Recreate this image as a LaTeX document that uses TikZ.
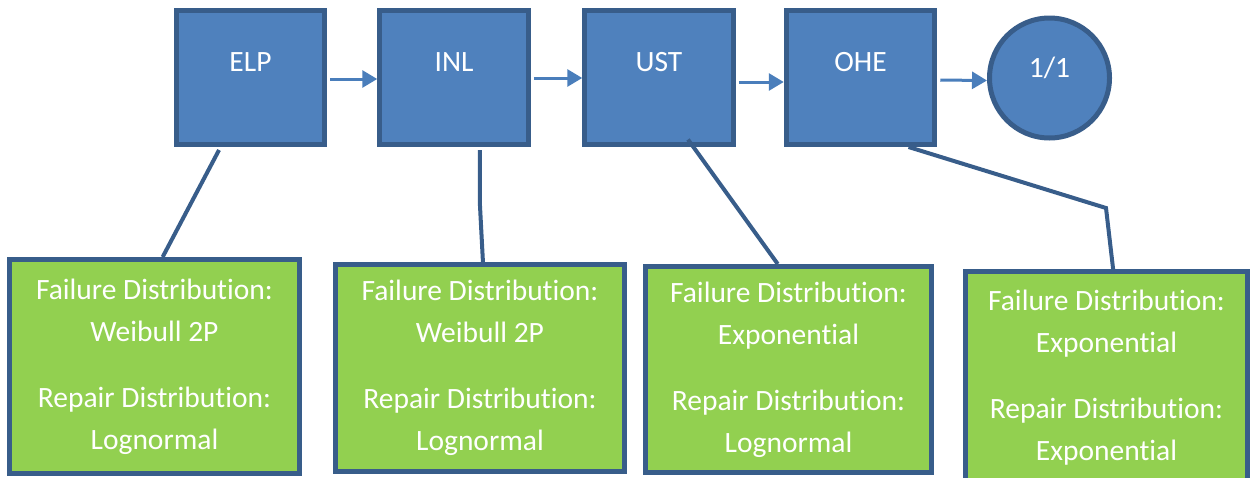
\documentclass[tikz,border=0pt]{standalone}
\usepackage{fontspec}
\setmainfont[Ligatures=NoCommon]{Carlito}
\usetikzlibrary{arrows.meta,calc}
\definecolor{boxblue}{HTML}{4F81BD}
\definecolor{edgeblue}{HTML}{385D8A}
\definecolor{leafgreen}{HTML}{92D050}
\definecolor{arrowblue}{HTML}{4A7EBB}

\begin{document}
\begin{tikzpicture}[x=1pt,y=-1pt,
  txt/.style={text=white,font=\fontsize{29.5}{42}\selectfont},
  unit/.style={draw=edgeblue,fill=boxblue,line width=5pt,
    minimum width=148.5pt,minimum height=134pt,inner sep=0pt},
  unitlabel/.style={txt,yshift=15.5pt},
  distbox/.style={draw=edgeblue,fill=leafgreen,line width=5pt,
    inner sep=0pt,align=center,txt},
  flow/.style={draw=arrowblue,line width=3pt,shorten <=3pt,
    -{Triangle[length=15pt,width=17pt]}},
  link/.style={draw=edgeblue,line width=4pt}
]
\useasboundingbox (0,0) rectangle (1258,477);

% component blocks
\node[unit,label={[unitlabel]center:ELP}] (elp) at (250.5,77.5) {};
\node[unit,label={[unitlabel]center:INL}] (inl) at (454,77.5) {};
\node[unit,label={[unitlabel]center:UST}] (ust) at (659,77.5) {};
\node[unit,label={[unitlabel]center:OHE}] (ohe) at (860.5,77.5) {};
\node[unit,circle,minimum size=120pt,label={[txt,yshift=10pt]center:1/1}] (ratio) at (1049.5,78) {};

% series flow
\draw[flow] ([yshift=-1.5pt]elp.east) -- ([yshift=-1.5pt]inl.west);
\draw[flow] ([yshift=-0.5pt]inl.east) -- ([yshift=-0.5pt]ust.west);
\draw[flow] ([yshift=-4.5pt]ust.east) -- ([yshift=-4.5pt]ohe.west);
\draw[flow] ([yshift=-2.5pt]ohe.east) -- ([yshift=-2.5pt]ratio.west);

% distribution boxes
\node[distbox,minimum width=290pt,minimum height=214pt] (fb1) at (154.5,366.5)
  {Failure Distribution:\\Weibull 2P\\[24pt]Repair Distribution:\\Lognormal};
\node[distbox,minimum width=289pt,minimum height=207pt] (fb2) at (480,368)
  {Failure Distribution:\\Weibull 2P\\[24pt]Repair Distribution:\\Lognormal};
\node[distbox,minimum width=286pt,minimum height=206pt] (fb3) at (788.5,369.5)
  {Failure Distribution:\\Exponential\\[24pt]Repair Distribution:\\Lognormal};
\node[distbox,minimum width=282pt,minimum height=212pt] (fb4) at (1106.5,377.5)
  {Failure Distribution:\\Exponential\\[24pt]Repair Distribution:\\Exponential};

% links from blocks to their distributions
\coordinate (bend4) at (1106,208);
\draw[link] ($(elp.south west)!0.295!(elp.south east)+(0,3)$)
  -- ($(fb1.north west)!0.5276!(fb1.north east)$);
\draw[link] ($(inl.south west)!0.668!(inl.south east)+(0,3)$) -- ++(0,52)
  -- ($(fb2.north west)!0.51!(fb2.north east)$);
\draw[link] ($(ust.south west)!0.689!(ust.south east)+(0,-7.5)$)
  -- ($(fb3.north west)!0.463!(fb3.north east)$);
\draw[link] ($(ohe.south west)!0.813!(ohe.south east)$) -- (bend4)
  -- ($(fb4.north west)!0.523!(fb4.north east)$);
\end{tikzpicture}
\end{document}
